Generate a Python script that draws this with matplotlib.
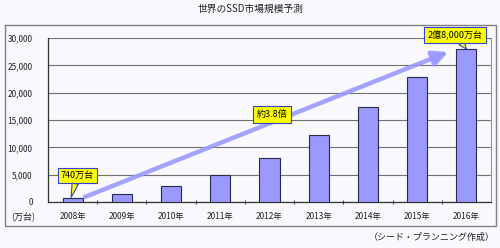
import matplotlib
matplotlib.use("Agg")
import matplotlib.pyplot as plt
from matplotlib.patches import Rectangle
from matplotlib.ticker import FuncFormatter, FixedLocator

plt.rcParams['font.family'] = ['Noto Sans CJK JP', 'DejaVu Sans']

years = ["2008年", "2009年", "2010年", "2011年", "2012年", "2013年", "2014年", "2015年", "2016年"]
values = [740, 1500, 2900, 4900, 8000, 12200, 17300, 22900, 28000]
yticks = [0, 5000, 10000, 15000, 20000, 25000, 30000]
title = "世界のSSD市場規模予測"
unit_label = "(万台)"
source = "（シード・プランニング作成）"
callout_first = "740万台"
callout_last = "2億8,000万台"
growth_label = "約3.8倍"

bg = "#f8f8fd"
fig = plt.figure(figsize=(5.0, 2.48), dpi=100, facecolor=bg)
ax = fig.add_axes([0.096, 0.1855, 0.886, 0.661], facecolor=bg)

x = list(range(len(years)))
ax.bar(x, values, width=0.41, color="#9999ff", edgecolor="#2a2a4a", linewidth=0.8, zorder=3)

ax.set_xlim(-0.5, len(years) - 0.5)
ax.set_ylim(0, 30000)
ax.set_yticks(yticks)
ax.yaxis.set_major_formatter(FuncFormatter(lambda v, p: f"{int(v):,}"))
ax.set_xticks(x)
ax.set_xticklabels(years)
ax.xaxis.set_minor_locator(FixedLocator([i + 0.5 for i in range(len(years) - 1)]))
ax.tick_params(axis='x', which='major', length=0, pad=7, labelsize=6, colors="#222222")
ax.tick_params(axis='x', which='minor', length=3, direction='inout', width=0.8, color="#444444")
ax.tick_params(axis='y', length=0, pad=11, labelsize=6, colors="#222222")

ax.grid(axis='y', color="#707070", linewidth=0.8, zorder=0)
for s in ['left', 'bottom']:
    ax.spines[s].set_color("#333333")
    ax.spines[s].set_linewidth(0.9)
ax.spines['right'].set_color("#999999")
ax.spines['right'].set_linewidth(0.8)
ax.spines['top'].set_visible(False)

# growth arrow
ax.annotate("", xy=(7.63, values[-1] * 0.98), xytext=(0.25, values[0] * 1.24),
            arrowprops=dict(arrowstyle="-|>,head_length=0.9,head_width=0.45", color="#9a9aff",
                            lw=3.2, alpha=0.9, shrinkA=0, shrinkB=0), zorder=4, annotation_clip=False)

box = dict(boxstyle="square,pad=0.35", fc="#ffff00", ec="#3344cc", lw=0.8)
wedge = dict(arrowstyle="wedge,tail_width=0.7", fc="#ffff00", ec="#3344cc", lw=0.8,
             shrinkA=0, shrinkB=0)

ax.annotate(callout_first, xy=(-0.03, values[0] + 100), xytext=(0.1, 4850),
            fontsize=6.5, ha='center', va='center', bbox=box, arrowprops=wedge, zorder=6)
ax.annotate(callout_last, xy=(8.0, values[-1]), xytext=(7.77, 30640),
            fontsize=6.5, ha='center', va='center', bbox=box, arrowprops=wedge, zorder=6,
            annotation_clip=False)
ax.text(4.05, 16000, growth_label, fontsize=6.5, ha='center', va='center', zorder=6,
        bbox=dict(boxstyle="square,pad=0.45", fc="#ffff00", ec="#3344cc", lw=0.8))

# outer frame
fig.patches.append(Rectangle((0.01, 0.0887), 0.982, 0.81, transform=fig.transFigure,
                             fill=False, ec="#808080", lw=1.0))

fig.text(0.5, 0.966, title, ha='center', va='center', fontsize=7, color="#222222")
fig.text(0.047, 1 - 217 / 248, unit_label, ha='center', va='center', fontsize=6.5, color="#222222")
fig.text(0.99, 1 - 237 / 248, source, ha='right', va='center', fontsize=6.5, color="#222222")

fig.savefig("out.png", dpi=100, facecolor=bg)
